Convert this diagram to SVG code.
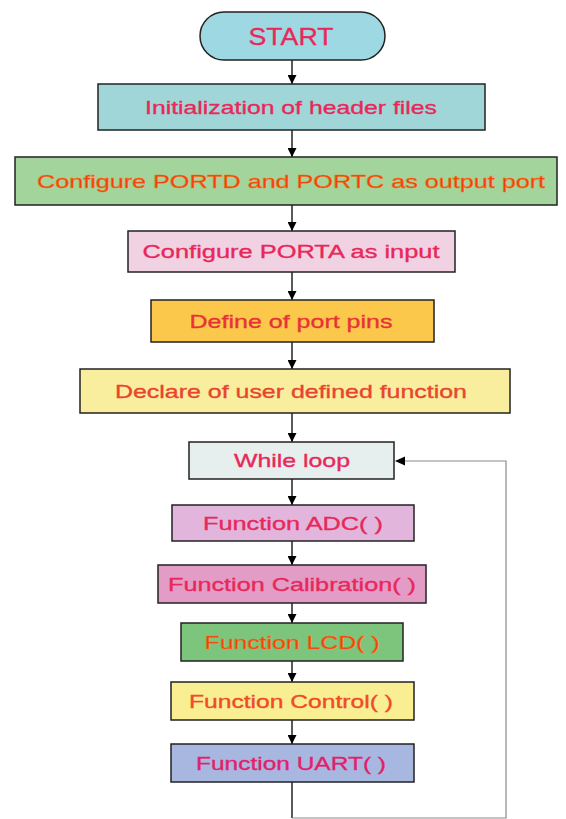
<svg xmlns="http://www.w3.org/2000/svg" width="566" height="819" viewBox="0 0 566 819">
<style>
.box{stroke:#222;stroke-width:1.5}
.t{font-family:"Liberation Sans",Arial,sans-serif;font-size:19px;text-anchor:middle;fill:#e8285a;stroke:#e8285a;stroke-width:0.35}
.o{fill:#f03a10;stroke:#f07a18;stroke-width:0.5}
.c{stroke:#000;stroke-width:1.3;fill:none}
.loop{stroke:#8a8a8a;stroke-width:1.2;fill:none}
</style>
<defs>
<marker id="ah" viewBox="0 0 10 10" refX="10" refY="5" markerWidth="9" markerHeight="9" markerUnits="userSpaceOnUse" orient="auto">
<path d="M0,0 L10,5 L0,10 z" fill="#000"/>
</marker>
</defs>
<rect width="566" height="819" fill="#fff"/>
<g id="connectors">
<line class="c" x1="292" y1="60" x2="292" y2="84" marker-end="url(#ah)"/>
<line class="c" x1="292" y1="130" x2="292" y2="157" marker-end="url(#ah)"/>
<line class="c" x1="292" y1="205" x2="292" y2="231" marker-end="url(#ah)"/>
<line class="c" x1="292" y1="272" x2="292" y2="300" marker-end="url(#ah)"/>
<line class="c" x1="292" y1="342" x2="292" y2="369" marker-end="url(#ah)"/>
<line class="c" x1="292" y1="413" x2="292" y2="442" marker-end="url(#ah)"/>
<line class="c" x1="292" y1="479" x2="292" y2="505" marker-end="url(#ah)"/>
<line class="c" x1="292" y1="541" x2="292" y2="565" marker-end="url(#ah)"/>
<line class="c" x1="292" y1="603" x2="292" y2="623" marker-end="url(#ah)"/>
<line class="c" x1="292" y1="661" x2="292" y2="682" marker-end="url(#ah)"/>
<line class="c" x1="292" y1="720" x2="292" y2="744" marker-end="url(#ah)"/>
<line class="c" x1="292" y1="782" x2="292" y2="818"/>
<polyline class="loop" points="292,818 506,818 506,461 396,461"/>
<path d="M395,461 L405,456.5 L405,465.5 z" fill="#000"/>
</g>
<g id="start">
<rect class="box" x="200" y="12" width="185" height="48" rx="24" fill="#9ed8e2"/>
<text class="t" x="291" y="45" style="font-size:24px" textLength="85" lengthAdjust="spacingAndGlyphs">START</text>
</g>
<g id="init">
<rect class="box" x="98" y="84" width="387" height="46" fill="#a0d6d8"/>
<text class="t" x="291" y="114" textLength="292" lengthAdjust="spacingAndGlyphs">Initialization of header files</text>
</g>
<g id="config-dc">
<rect class="box" x="15" y="157" width="542" height="48" fill="#a3d49c"/>
<text class="t o" x="291" y="188" textLength="508" lengthAdjust="spacingAndGlyphs">Configure PORTD and PORTC as output port</text>
</g>
<g id="config-a">
<rect class="box" x="128" y="231" width="327" height="41" fill="#f1d2e2"/>
<text class="t" x="291" y="258" textLength="297" lengthAdjust="spacingAndGlyphs">Configure PORTA as input</text>
</g>
<g id="define">
<rect class="box" x="151" y="300" width="283" height="42" fill="#fbc84c"/>
<text class="t" x="291" y="328" style="fill:#e83238;stroke:#e83238" textLength="203" lengthAdjust="spacingAndGlyphs">Define of port pins</text>
</g>
<g id="declare">
<rect class="box" x="80" y="369" width="430" height="44" fill="#f8ee9e"/>
<text class="t" x="291" y="398" style="fill:#e84430;stroke:#e84430" textLength="352" lengthAdjust="spacingAndGlyphs">Declare of user defined function</text>
</g>
<g id="while">
<rect class="box" x="189" y="442" width="205" height="37" fill="#e6eeee"/>
<text class="t" x="292" y="467" textLength="116" lengthAdjust="spacingAndGlyphs">While loop</text>
</g>
<g id="adc">
<rect class="box" x="172" y="505" width="242" height="36" fill="#e2b6dc"/>
<text class="t" x="293" y="530" textLength="180" lengthAdjust="spacingAndGlyphs">Function ADC( )</text>
</g>
<g id="calibration">
<rect class="box" x="158" y="565" width="268" height="38" fill="#e29cc6"/>
<text class="t" x="292" y="591" textLength="248" lengthAdjust="spacingAndGlyphs">Function Calibration( )</text>
</g>
<g id="lcd">
<rect class="box" x="181" y="623" width="222" height="38" fill="#7dc47d"/>
<text class="t o" x="292" y="649" textLength="175" lengthAdjust="spacingAndGlyphs">Function LCD( )</text>
</g>
<g id="control">
<rect class="box" x="171" y="682" width="243" height="38" fill="#f9ef92"/>
<text class="t" x="291" y="708" style="fill:#f04a28;stroke:#f04a28" textLength="204" lengthAdjust="spacingAndGlyphs">Function Control( )</text>
</g>
<g id="uart">
<rect class="box" x="171" y="744" width="243" height="38" fill="#a7b7e0"/>
<text class="t" x="291" y="770" style="fill:#e2206c;stroke:#e2206c" textLength="190" lengthAdjust="spacingAndGlyphs">Function UART( )</text>
</g>
</svg>
